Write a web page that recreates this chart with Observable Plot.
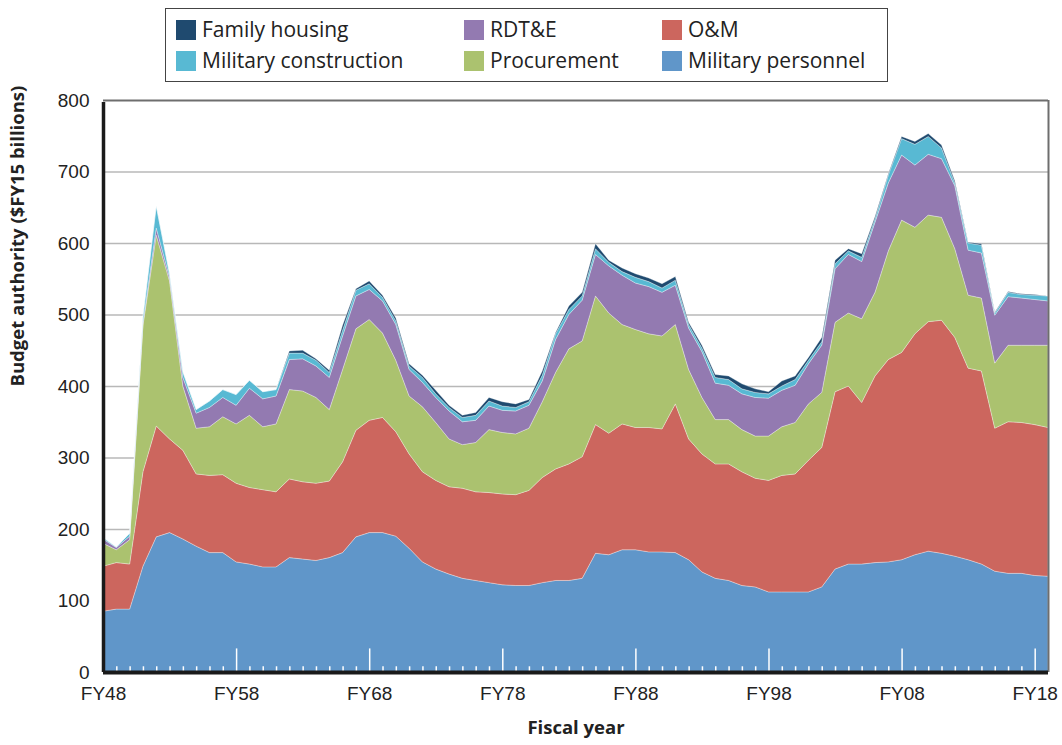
<!DOCTYPE html>
<html>
<head>
<meta charset="utf-8">
<script src="https://cdn.jsdelivr.net/npm/d3@7"></script>
<script src="https://cdn.jsdelivr.net/npm/@observablehq/plot@0.6"></script>
<style>
  html, body { margin: 0; padding: 0; background: #fff; }
  #wrap { position: relative; width: 1062px; height: 745px; overflow: hidden; }
  #legend { position: absolute; left: 165px; top: 8px; width: 721px; height: 72px; border: 1.5px solid #444; background: #fff; font-family: "Open Sans", sans-serif; font-size: 21px; color: #222; }
  .item { position: absolute; display: flex; align-items: center; white-space: nowrap; height: 27px; line-height: 27px; }
  .sw { width: 20px; height: 20px; margin-right: 6px; }
</style>
</head>
<body>
<div id="wrap">
  <div id="chart"></div>
  <div id="legend"></div>
</div>
<script>
const years = d3.range(1948, 2020);
const seriesNames = ["Military personnel", "O&M", "Procurement", "RDT&E", "Military construction", "Family housing"];
const seriesColors = ["#6096c9", "#cc665e", "#abc26f", "#937ab1", "#58b9d3", "#1f4a6f"];

const personnel = [85,88,88,148,189,195,186,176,167,167, 154,151,147,147,160,158,156,160,167,189, 195,195,190,173,154,144,137,131,128,125, 122,121,121,125,128,128,131,166,164,171, 171,168,168,167,157,140,131,128,121,119, 112,112,112,112,119,144,151,151,153,154, 157,164,169,166,162,157,151,141,138,138, 135,134];
const om = [63,65,63,132,155,131,124,101,108,109, 110,107,108,105,110,108,108,107,127,149, 157,161,146,132,126,124,122,126,124,126, 127,127,133,147,156,163,170,180,170,176, 171,174,172,208,169,165,160,163,159,152, 156,163,165,184,195,248,249,226,261,283, 290,309,321,326,306,268,270,200,212,211, 211,208];
const procurement = [32,18,34,205,267,221,90,64,68,81, 83,101,88,95,125,127,120,100,129,142, 141,118,100,81,91,81,67,61,69,88, 86,85,87,106,135,161,162,180,168,139, 137,131,130,111,97,79,62,62,59,59, 62,68,72,79,77,97,102,117,117,152, 185,149,149,144,124,102,102,91,107,108, 111,115];
const rdte = [6,3,5,3,10,5,12,21,27,27, 26,38,39,39,42,45,44,45,47,46, 42,45,50,37,34,35,39,32,31,33, 31,32,32,29,46,48,57,58,66,69, 65,66,61,55,58,64,51,48,50,54, 53,51,52,56,66,75,82,80,98,95, 91,87,85,82,88,63,63,67,68,66, 64,62];
const milcon = [2,1,4,9,31,5,8,5,9,11, 15,11,10,9,9,8,8,7,8,8, 8,5,5,5,7,5,5,6,7,7, 6,5,5,8,8,7,6,8,5,5, 8,7,6,7,5,5,8,8,7,7, 6,6,8,5,5,7,5,6,5,11, 23,29,25,15,4,10,11,3,6,5, 6,7];
const familyHousing = [0,0,0,0,0,0,0,0,0,0, 0,0,0,0,3,4,2,3,7,2, 4,3,4,3,3,5,3,3,4,5, 6,5,3,6,2,5,5,7,3,5, 5,5,6,5,3,4,4,5,7,5, 3,7,5,4,6,5,3,5,3,2, 3,4,4,4,3,1,2,1,1,1, 1,0];

const xTicks = [1948,1958,1968,1978,1988,1998,2008,2018];
const xTickLabels = ["FY48","FY58","FY68","FY78","FY88","FY98","FY08","FY18"];
const yTicks = [0,100,200,300,400,500,600,700,800];
const gridValues = [100,200,300,400,500,600,700];

const seriesValues = [personnel, om, procurement, rdte, milcon, familyHousing];
const data = [];
seriesNames.forEach((name, s) => {
  years.forEach((yr, i) => data.push({year: yr, series: name, value: seriesValues[s][i]}));
});

const minorYears = years.filter(y => !xTicks.includes(y) && y < 2019 && y > 1948);

const chart = Plot.plot({
  width: 1062,
  height: 745,
  marginTop: 100,
  marginBottom: 73,
  marginLeft: 103,
  marginRight: 14,
  style: {fontFamily: "Liberation Sans, Arial, sans-serif", background: "#fff", overflow: "visible"},
  x: {domain: [1948, 2019]},
  y: {domain: [0, 800]},
  color: {domain: seriesNames, range: seriesColors},
  marks: [
    Plot.ruleY(gridValues, {stroke: "#b8b8b8", strokeWidth: 1.6}),
    Plot.areaY(data, {x: "year", y: "value", fill: "series", z: "series", order: seriesNames, stroke: "#ffffff", strokeOpacity: 0.45, strokeWidth: 0.7}),
    Plot.ruleX(minorYears, {x: d => d, y1: 0, y2: 8, stroke: "white", strokeWidth: 1.5}),
    Plot.ruleX(xTicks.slice(1), {x: d => d, y1: 0, y2: 33, stroke: "white", strokeWidth: 1.5}),
    Plot.ruleY([800], {stroke: "#6e6e6e", strokeWidth: 2}),
    Plot.ruleX([2019], {stroke: "#6e6e6e", strokeWidth: 2}),
    Plot.ruleX([1948], {stroke: "#1a1a1a", strokeWidth: 3.5, y1: 0, y2: 800, insetBottom: -2}),
    Plot.ruleY([0], {stroke: "#1a1a1a", strokeWidth: 4}),
    Plot.axisX({ticks: xTicks, tickSize: 0, tickPadding: 14, tickFormat: (d, i) => xTickLabels[xTicks.indexOf(d)], fontSize: 19, fill: "#222", label: null}),
    Plot.axisY({ticks: yTicks, tickSize: 0, tickPadding: 14, fontSize: 19, fill: "#222", label: null}),
    Plot.text(["Budget authority ($FY15 billions)"], {frameAnchor: "left", rotate: -90, dx: -85, fontWeight: "bold", fontSize: 18.5, fill: "#222", fontFamily: "Open Sans, sans-serif"}),
    Plot.text(["Fiscal year"], {frameAnchor: "bottom", dy: 61, fontWeight: "bold", fontSize: 18.5, fill: "#222", fontFamily: "Open Sans, sans-serif"})
  ]
});
document.getElementById("chart").appendChild(chart);

// Legend (HTML overlay above plot area)
const legendOrder = ["Family housing", "RDT&E", "O&M", "Military construction", "Procurement", "Military personnel"];
const colX = [10, 298, 496];
const rowY = [7, 38];
const legend = document.getElementById("legend");
legendOrder.forEach((name, k) => {
  const col = k % 3, row = Math.floor(k / 3);
  const el = document.createElement("div");
  el.className = "item";
  el.style.left = colX[col] + "px";
  el.style.top = rowY[row] + "px";
  const sw = document.createElement("div");
  sw.className = "sw";
  sw.style.background = seriesColors[seriesNames.indexOf(name)];
  const tx = document.createElement("span");
  tx.textContent = name;
  el.appendChild(sw);
  el.appendChild(tx);
  legend.appendChild(el);
});
</script>
</body>
</html>
